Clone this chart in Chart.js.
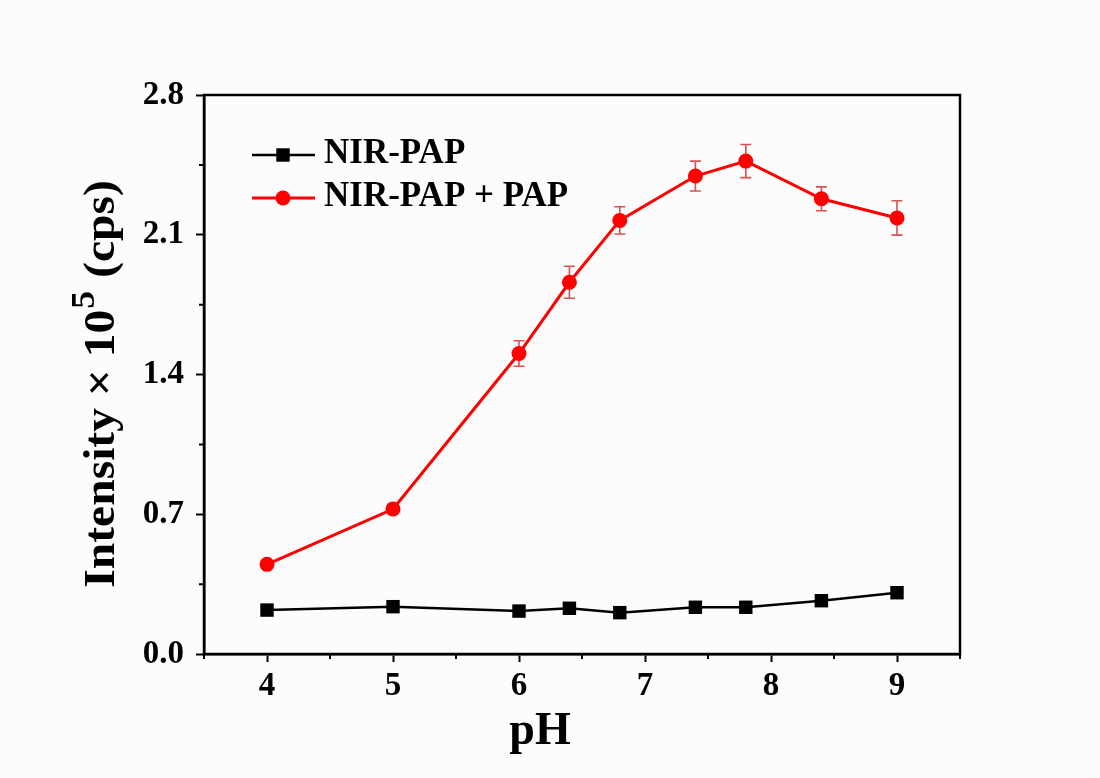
<!DOCTYPE html>
<html>
<head>
<meta charset="utf-8">
<script src="https://cdn.jsdelivr.net/npm/chart.js@4/dist/chart.umd.min.js"></script>
<style>
  html, body { margin: 0; padding: 0; background: #fcfcfc; }
  #wrap { width: 1100px; height: 778px; }
</style>
</head>
<body>
<div id="wrap"><canvas id="phChart" width="1100" height="778"></canvas></div>
<script>
// data
let phValues = [4, 5, 6, 6.4, 6.8, 7.4, 7.8, 8.4, 9];
let nirPap = [0.220, 0.237, 0.215, 0.229, 0.207, 0.234, 0.234, 0.267, 0.307];
let nirPapPlusPap = [0.449, 0.726, 1.505, 1.862, 2.172, 2.394, 2.469, 2.280, 2.184];
let nirPapPlusPapErr = [0.010, 0.025, 0.064, 0.080, 0.068, 0.075, 0.083, 0.060, 0.086];
let seriesNames = ['NIR-PAP', 'NIR-PAP + PAP'];
let yTicks = [0, 0.7, 1.4, 2.1, 2.8];
let xTicks = [4, 5, 6, 7, 8, 9];

const serif = '"Liberation Serif", "Times New Roman", serif';

function toPoints(xs, ys)
  {
    return xs.map((x, i) => ({ x: x, y: ys[i] }));
  }

// error bars, frame, minor ticks, legend and axis titles
const decorations = {
  id: 'decorations',
  beforeDatasetsDraw(chart)
    {
      const ctx = chart.ctx;
      const xs = chart.scales.x;
      const ys = chart.scales.y;
      ctx.save();
      ctx.strokeStyle = 'rgba(214, 50, 50, 0.85)';
      ctx.lineWidth = 1.6;
      nirPapPlusPap.forEach((v, i) => {
        const e = nirPapPlusPapErr[i];
        const px = xs.getPixelForValue(phValues[i]);
        const top = ys.getPixelForValue(v + e);
        const bot = ys.getPixelForValue(v - e);
        ctx.beginPath();
        ctx.moveTo(px, top); ctx.lineTo(px, bot);
        ctx.moveTo(px - 5.5, top); ctx.lineTo(px + 5.5, top);
        ctx.moveTo(px - 5.5, bot); ctx.lineTo(px + 5.5, bot);
        ctx.stroke();
      });
      ctx.restore();
    },
  afterDraw(chart)
    {
      const ctx = chart.ctx;
      const a = chart.chartArea;
      const xs = chart.scales.x;
      const ys = chart.scales.y;
      ctx.save();
      ctx.strokeStyle = '#000';
      ctx.lineWidth = 2.5;
      ctx.strokeRect(a.left, a.top, a.right - a.left, a.bottom - a.top);

      // minor ticks
      ctx.lineWidth = 2;
      ctx.beginPath();
      for (let i = 0; i < yTicks.length - 1; i++)
        {
          const py = ys.getPixelForValue((yTicks[i] + yTicks[i + 1]) / 2);
          ctx.moveTo(a.left, py); ctx.lineTo(a.left - 5, py);
        }
      let xMinor = [xs.min, xs.max];
      for (let i = 0; i < xTicks.length - 1; i++) xMinor.push((xTicks[i] + xTicks[i + 1]) / 2);
      xMinor.forEach(v => {
        const px = xs.getPixelForValue(v);
        ctx.moveTo(px, a.bottom); ctx.lineTo(px, a.bottom + 5);
      });
      ctx.stroke();

      // legend
      const sets = chart.data.datasets;
      const rows = [155, 198];
      sets.forEach((ds, i) => {
        const y = rows[i];
        ctx.strokeStyle = ds.borderColor;
        ctx.lineWidth = ds.borderWidth;
        ctx.beginPath();
        ctx.moveTo(252, y); ctx.lineTo(315, y);
        ctx.stroke();
        ctx.fillStyle = ds.pointBackgroundColor;
        ctx.beginPath();
        if (ds.pointStyle === 'rect')
          {
            const s = ds.pointRadius * Math.SQRT1_2;
            ctx.rect(283 - s, y - s, 2 * s, 2 * s);
          }
        else
          {
            ctx.arc(283, y, ds.pointRadius, 0, Math.PI * 2);
          }
        ctx.fill();
        ctx.fillStyle = '#000';
        ctx.font = 'bold 35px ' + serif;
        ctx.textAlign = 'left';
        ctx.textBaseline = 'middle';
        ctx.fillText(ds.label, 324, y - 1);
      });

      // x title
      ctx.fillStyle = '#000';
      ctx.font = 'bold 46px ' + serif;
      ctx.textAlign = 'center';
      ctx.textBaseline = 'alphabetic';
      ctx.fillText('pH', 540, 744);

      // y title with superscript
      ctx.translate(114, 385);
      ctx.rotate(-Math.PI / 2);
      ctx.scale(1.08, 1);
      const big = 'bold 44px ' + serif;
      const small = 'bold 33px ' + serif;
      const p1 = 'Intensity \u00D7 10';
      const p2 = '5';
      const p3 = ' (cps)';
      ctx.font = big;
      const w1 = ctx.measureText(p1).width;
      const w3 = ctx.measureText(p3).width;
      ctx.font = small;
      const w2 = ctx.measureText(p2).width;
      let x0 = -(w1 + w2 + w3) / 2;
      ctx.textAlign = 'left';
      ctx.font = big;
      ctx.fillText(p1, x0, 0);
      ctx.font = small;
      ctx.fillText(p2, x0 + w1 + 1, -20);
      ctx.font = big;
      ctx.fillText(p3, x0 + w1 + w2 + 2, 0);
      ctx.restore();
    }
};

const ctxPh = document.getElementById('phChart').getContext('2d');

new Chart(ctxPh, {
  type: 'line',
  data: {
    datasets: [{
        label: seriesNames[0],
        data: toPoints(phValues, nirPap),
        borderColor: '#000000',
        backgroundColor: '#000000',
        pointBackgroundColor: '#000000',
        pointBorderWidth: 0,
        pointStyle: 'rect',
        pointRadius: 9.5,
        borderWidth: 2.5,
        tension: 0
      },
      {
        label: seriesNames[1],
        data: toPoints(phValues, nirPapPlusPap),
        borderColor: '#ff0000',
        backgroundColor: '#ff0000',
        pointBackgroundColor: '#ff0000',
        pointBorderWidth: 0,
        pointStyle: 'circle',
        pointRadius: 7.5,
        borderWidth: 3,
        tension: 0
      }]
  },
  options: {
    responsive: false,
    animation: false,
    events: [],
    layout: {
      padding: { top: 95, right: 140, left: 0, bottom: 0 }
    },
    plugins: {
      legend: { display: false },
      tooltip: { enabled: false }
    },
    scales: {
      x: {
        type: 'linear',
        min: 3.5,
        max: 9.5,
        afterFit: function(scale) { scale.height = 124; },
        afterBuildTicks: function(scale) { scale.ticks = xTicks.map(v => ({ value: v })); },
        grid: {
          drawOnChartArea: false,
          tickLength: 8,
          tickWidth: 2,
          tickColor: '#000'
        },
        border: { color: '#000', width: 2.5 },
        ticks: {
          color: '#000',
          padding: 5,
          font: { family: serif, size: 33, weight: 'bold' },
          callback: v => String(v)
        }
      },
      y: {
        min: 0,
        max: 2.8,
        afterFit: function(scale) { scale.width = 204; },
        afterBuildTicks: function(scale) { scale.ticks = yTicks.map(v => ({ value: v })); },
        grid: {
          drawOnChartArea: false,
          tickLength: 8,
          tickWidth: 2,
          tickColor: '#000'
        },
        border: { color: '#000', width: 2.5 },
        ticks: {
          color: '#000',
          padding: 12,
          font: { family: serif, size: 33, weight: 'bold' },
          callback: v => v.toFixed(1)
        }
      }
    }
  },
  plugins: [decorations]
});
</script>
</body>
</html>
